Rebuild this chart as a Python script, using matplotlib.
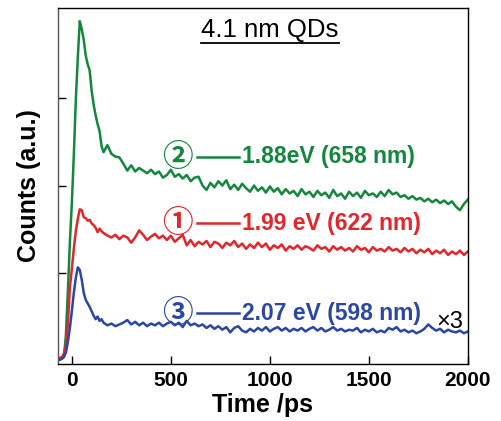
import matplotlib
matplotlib.use('Agg')
import matplotlib.pyplot as plt
import numpy as np

# time axis (ps): fine steps around the rise, 20 ps afterwards
t_early = [-70, -60, -50, -40, -30, -20, -10, 0, 10, 20, 30, 40, 50, 60, 70, 80, 90, 100, 110, 120, 130, 140, 150]
t_tail = list(range(160, 2001, 20))
time_ps = np.array(t_early + t_tail)

# (2) 1.88 eV (658 nm)
green_counts = [
    0.02, 0.02, 0.03, 0.05, 0.30, 0.80, 1.35, 1.80, 2.35, 2.97, 3.45, 3.87, 3.78, 3.66, 3.48, 3.38, 3.31, 3.08, 2.92, 2.80, 2.70, 2.62, 2.45,
    2.38, 2.46, 2.36, 2.33, 2.32, 2.25, 2.17, 2.23, 2.16, 2.20,
    2.17, 2.14, 2.18, 2.13, 2.16, 2.09, 2.12, 2.18, 2.10, 2.13,
    2.08, 2.12, 2.05, 2.09, 2.10, 2.00, 1.95, 2.03, 1.98, 2.05,
    2.00, 2.06, 1.96, 2.01, 1.95, 2.02, 1.97, 1.93, 2.00, 1.94,
    1.98, 1.92, 1.99, 1.93, 1.97, 1.90, 1.96, 1.91, 1.94, 1.88,
    1.96, 1.90, 1.93, 1.87, 1.94, 1.89, 1.92, 1.86, 1.95, 1.88,
    1.91, 1.85, 1.93, 1.88, 1.92, 1.86, 1.94, 1.89, 1.91, 1.87,
    1.93, 1.88, 1.95, 1.90, 1.92, 1.87, 1.89, 1.85, 1.88, 1.84,
    1.86, 1.82, 1.85, 1.81, 1.84, 1.80, 1.83, 1.79, 1.82, 1.76,
    1.72, 1.79, 1.84,
]

# (1) 1.99 eV (622 nm)
red_counts = [
    0.03, 0.04, 0.05, 0.09, 0.18, 0.42, 0.84, 1.05, 1.28, 1.48, 1.62, 1.73, 1.72, 1.64, 1.63, 1.60, 1.61, 1.57, 1.55, 1.52, 1.47, 1.51, 1.48,
    1.46, 1.43, 1.41, 1.44, 1.39, 1.43, 1.41, 1.35, 1.41, 1.49,
    1.44, 1.38, 1.42, 1.45, 1.40, 1.43, 1.38, 1.43, 1.36, 1.40,
    1.44, 1.32, 1.38, 1.31, 1.36, 1.33, 1.37, 1.30, 1.36, 1.34,
    1.29, 1.35, 1.32, 1.37, 1.30, 1.34, 1.28, 1.33, 1.29, 1.35,
    1.30, 1.34, 1.27, 1.32, 1.29, 1.33, 1.26, 1.31, 1.28, 1.32,
    1.27, 1.31, 1.29, 1.26, 1.32, 1.28, 1.30, 1.25, 1.31, 1.27,
    1.30, 1.26, 1.29, 1.25, 1.31, 1.27, 1.29, 1.24, 1.30, 1.26,
    1.28, 1.25, 1.30, 1.26, 1.28, 1.24, 1.29, 1.25, 1.28, 1.23,
    1.27, 1.24, 1.28, 1.22, 1.26, 1.23, 1.27, 1.21, 1.25, 1.22,
    1.26, 1.21, 1.25,
]

# (3) 2.07 eV (598 nm), shown x3
blue_counts = [
    0.02, 0.02, 0.03, 0.05, 0.10, 0.22, 0.38, 0.57, 0.78, 0.95, 1.07, 1.04, 0.93, 0.78, 0.70, 0.66, 0.62, 0.57, 0.52, 0.48, 0.51, 0.46, 0.48,
    0.44, 0.41, 0.43, 0.40, 0.42, 0.44, 0.47, 0.42, 0.45, 0.41,
    0.44, 0.40, 0.43, 0.41, 0.44, 0.40, 0.43, 0.45, 0.41, 0.44,
    0.39, 0.46, 0.41, 0.43, 0.40, 0.42, 0.38, 0.41, 0.37, 0.40,
    0.36, 0.39, 0.33, 0.38, 0.40, 0.35, 0.33, 0.37, 0.34, 0.38,
    0.35, 0.39, 0.34, 0.37, 0.39, 0.35, 0.38, 0.34, 0.37, 0.35,
    0.38, 0.34, 0.37, 0.39, 0.35, 0.38, 0.34, 0.36, 0.39, 0.35,
    0.37, 0.34, 0.36, 0.35, 0.38, 0.33, 0.36, 0.34, 0.37, 0.33,
    0.35, 0.33, 0.38, 0.36, 0.39, 0.34, 0.36, 0.33, 0.35, 0.32,
    0.34, 0.37, 0.42, 0.38, 0.35, 0.37, 0.33, 0.36, 0.34, 0.33,
    0.35, 0.32, 0.34,
]

x_ticks = [0, 500, 1000, 1500, 2000]
y_ticks = [1, 2, 3]

GREEN = '#14873f'
RED = '#e1262c'
BLUE = '#2c46a3'

plt.rcParams['font.family'] = ['Liberation Sans', 'DejaVu Sans']
circ_font = ['Noto Sans CJK JP', 'DejaVu Sans']

fig = plt.figure(figsize=(5.02, 4.21), dpi=100)
ax = fig.add_axes([0.1155, 0.1354, 0.8165, 0.8456])

ax.plot(time_ps, green_counts, color=GREEN, lw=1.8)
ax.plot(time_ps, red_counts, color=RED, lw=1.8)
ax.plot(time_ps, blue_counts, color=BLUE, lw=1.8)

ax.set_xlim(-70, 2000)
ax.set_ylim(-0.03, 4.02)
ax.set_xticks(x_ticks)
ax.set_xticklabels([str(v) for v in x_ticks], fontsize=15, fontweight='bold')
ax.set_yticks(y_ticks)
ax.set_yticklabels([])
ax.tick_params(direction='in', length=6, width=1, pad=5)
for s in ax.spines.values():
    s.set_linewidth(1.0)
ax.spines['left'].set_color('#555555')

ax.set_xlabel('Time /ps', fontsize=18, fontweight='bold', labelpad=2)
ax.set_ylabel('Counts (a.u.)', fontsize=18, fontweight='bold', labelpad=7)

# labels for each trace
labels = [
    ('②', '1.88eV (658 nm)', GREEN, 2.33),
    ('①', '1.99 eV (622 nm)', RED, 1.57),
    ('③', '2.07 eV (598 nm)', BLUE, 0.55),
]
for circ, txt, col, yy in labels:
    ax.text(535, yy, circ, color=col, fontsize=22, family=circ_font,
            fontweight='bold', ha='center', va='center')
    ax.plot([634, 845], [yy, yy], color=col, lw=1.8)
    ax.text(861, yy, txt, color=col, fontsize=16.5, fontweight='bold',
            ha='left', va='center')

ax.text(1907, 0.45, '×3', color='black', fontsize=17, ha='center', va='center')

title = ax.text(1001, 3.77, '4.1 nm QDs', fontsize=18.5, ha='center', va='center')
fig.canvas.draw()
bb = title.get_window_extent().transformed(ax.transAxes.inverted())
ax.plot([bb.x0, bb.x1], [bb.y0 - 0.004, bb.y0 - 0.004], transform=ax.transAxes,
        color='black', lw=1.3)

fig.savefig('out.png', dpi=100)
